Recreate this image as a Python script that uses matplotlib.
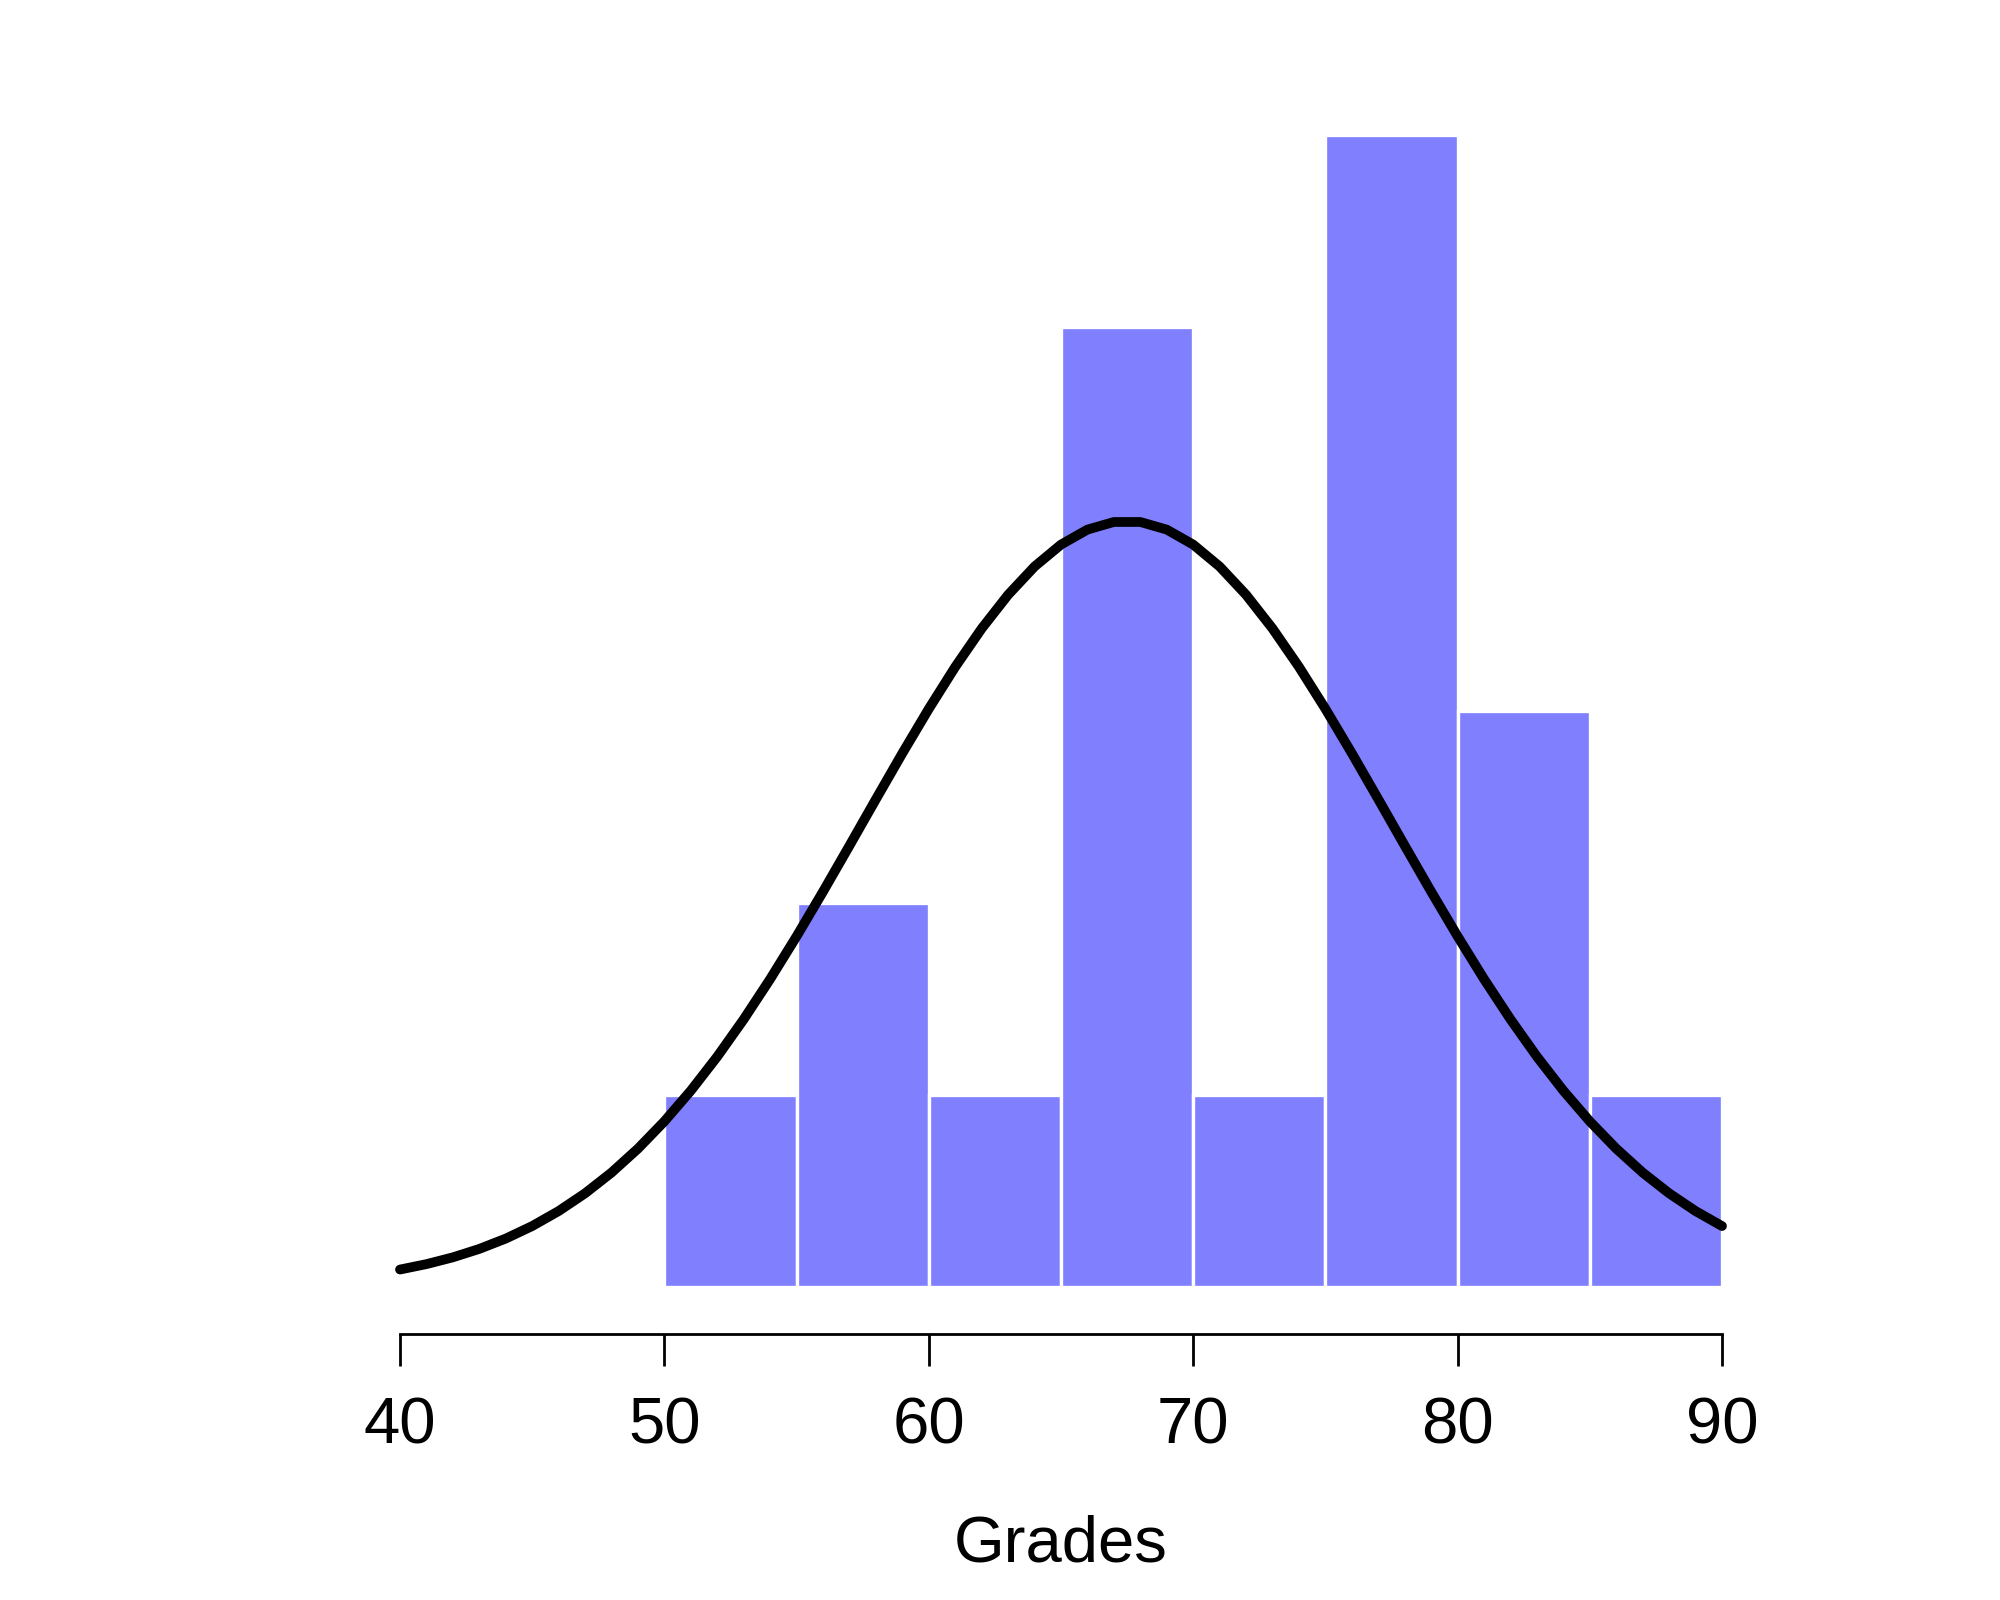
import numpy as np
import matplotlib
matplotlib.use("Agg")
import matplotlib.pyplot as plt

# Data
bin_edges = [50, 55, 60, 65, 70, 75, 80, 85, 90]
counts = [1, 2, 1, 5, 1, 6, 3, 1]
tick_values = [40, 50, 60, 70, 80, 90]
x_label = "Grades"
# Normal curve overlay parameters (scaled to counts: n * bin width)
curve_mean = 67.5
curve_sd = 10.0
curve_x = np.arange(40, 91, 1)
n_total = 20
bin_width = 5

curve_y = n_total * bin_width * np.exp(-0.5 * ((curve_x - curve_mean) / curve_sd) ** 2) / (curve_sd * np.sqrt(2 * np.pi))

plt.rcParams['font.family'] = ['Liberation Sans', 'DejaVu Sans']

fig = plt.figure(figsize=(20, 16), dpi=100)
W, H = 2000, 1600
left_px, right_px = 400, 1722
base_px = 1287
unit_px = 192
ytop = 6.5
ax = fig.add_axes([left_px / W, 1 - base_px / H, (right_px - left_px) / W, ytop * unit_px / H])

lefts = bin_edges[:-1]
widths = np.diff(bin_edges)
ax.bar(lefts, counts, width=widths, align='edge', color='#8080FF',
       edgecolor='white', linewidth=2.4)

ax.plot(curve_x, curve_y, color='black', linewidth=7.0, clip_on=False,
        solid_capstyle='round', solid_joinstyle='round', zorder=3)

ax.set_xlim(40, 90)
ax.set_ylim(0, ytop)

for s in ['left', 'right', 'top']:
    ax.spines[s].set_visible(False)
ax.spines['bottom'].set_position(('outward', 47 * 0.72))
ax.spines['bottom'].set_bounds(40, 90)
ax.spines['bottom'].set_linewidth(2.0)
ax.set_yticks([])
ax.set_xticks(tick_values)
ax.set_xticklabels([str(t) for t in tick_values])
ax.tick_params(axis='x', length=23, width=2.0, pad=22, labelsize=47)

fig.text((left_px + right_px) / 2 / W, 1 - 1562 / H, x_label, ha='center',
         va='baseline', fontsize=47)

fig.savefig("out.png", dpi=100)
